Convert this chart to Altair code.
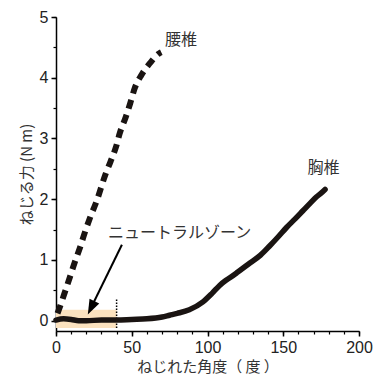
import altair as alt
import pandas as pd

# ---- data ----
lumbar_x = [1, 2.6, 6, 9.2, 12.5, 15.8, 19, 22.4, 27, 32.5, 36, 39.6, 42, 46, 49, 52, 56.5, 62, 68, 69.5]
lumbar_y = [0.12, 0.23, 0.48, 0.72, 0.97, 1.2, 1.45, 1.69, 1.98, 2.4, 2.62, 2.86, 3.08, 3.35, 3.58, 3.83, 4.05, 4.24, 4.4, 4.42]

thor_x = [0, 5, 10, 15, 20, 30, 40, 50, 60, 70, 75, 80, 88, 97, 103, 108, 112, 115, 120, 128, 135, 141, 147, 152, 158, 163, 168, 172, 175, 177.6]
thor_y = [0.01, 0.03, 0.02, 0.0, 0.0, 0.01, 0.01, 0.02, 0.03, 0.06, 0.09, 0.12, 0.18, 0.31, 0.45, 0.58, 0.66, 0.71, 0.8, 0.95, 1.08, 1.23, 1.39, 1.53, 1.68, 1.81, 1.94, 2.04, 2.1, 2.16]

zone_x = [0, 40]
zone_y = [-0.12, 0.18]
zone_line_y = [-0.12, 0.36]

arrow_x = [43.5, 23.3]
arrow_y = [1.25, 0.22]
arrow_tip = [21, 0.1]

label_text = ["腰椎", "胸椎", "ニュートラルゾーン"]
label_x = [72, 166, 34.3]
label_y = [4.62, 2.52, 1.45]

x_major = [0, 50, 100, 150, 200]
x_minor = list(range(0, 201, 10))
y_major = [0, 1, 2, 3, 4, 5]
y_minor = [i * 0.5 for i in range(11)]

x_title = "ねじれた角度（ 度 ）"
y_title = "ねじる力 (N m)"

# ---- chart ----
FONT_NUM = "Liberation Sans, Arial, Noto Sans CJK JP"
FONT_JP = "Noto Sans CJK JP, Liberation Sans"
INK = "#1a1412"

xscale = alt.Scale(domain=[0, 200], nice=False, zero=False)
yscale = alt.Scale(domain=[-0.17, 5], nice=False, zero=False)

major_x_axis = alt.Axis(values=x_major, orient="bottom", tickSize=5, tickWidth=1.5, tickColor="black",
                        domainColor="black", domainWidth=1.5, labelFont=FONT_NUM, labelFontSize=16,
                        labelColor="#222", labelPadding=3, labelFlush=False, grid=False, title=x_title,
                        titleFont=FONT_JP, titleFontSize=15, titleFontWeight="normal", titleColor="#333",
                        titlePadding=4)
major_y_axis = alt.Axis(values=y_major, orient="left", tickSize=5, tickWidth=1.5, tickColor="black",
                        domainColor="black", domainWidth=1.5, labelFont=FONT_NUM, labelFontSize=16,
                        labelColor="#222", labelPadding=3, labelFlush=False, grid=False, title=y_title,
                        titleFont=FONT_JP, titleFontSize=15, titleFontWeight="normal", titleColor="#333",
                        titlePadding=5)
minor_x_axis = alt.Axis(values=x_minor, orient="bottom", tickSize=3, tickWidth=1.2, tickColor="black",
                        domain=False, labels=False, grid=False, title=None)
minor_y_axis = alt.Axis(values=y_minor, orient="left", tickSize=3, tickWidth=1.2, tickColor="black",
                        domain=False, labels=False, grid=False, title=None)

zone_df = pd.DataFrame({"x": [zone_x[0]], "x2": [zone_x[1]], "y": [zone_y[0]], "y2": [zone_y[1]]})
zone = alt.Chart(zone_df).mark_rect(color="#fbe2bf").encode(
    x=alt.X("x:Q", scale=xscale, axis=minor_x_axis),
    x2="x2:Q",
    y=alt.Y("y:Q", scale=yscale, axis=minor_y_axis),
    y2="y2:Q",
)

zline_df = pd.DataFrame({"x": [zone_x[1]], "y": [zone_line_y[0]], "y2": [zone_line_y[1]]})
zline = alt.Chart(zline_df).mark_rule(color="black", strokeWidth=1.5, strokeDash=[1.5, 1.5]).encode(
    x=alt.X("x:Q", scale=xscale, axis=None),
    y=alt.Y("y:Q", scale=yscale, axis=None),
    y2="y2:Q",
)

thor_df = pd.DataFrame({"x": thor_x, "y": thor_y})
thor = alt.Chart(thor_df).mark_line(color=INK, strokeWidth=5.5, strokeCap="round", strokeJoin="round",
                                    interpolate="monotone").encode(
    x=alt.X("x:Q", scale=xscale, axis=major_x_axis),
    y=alt.Y("y:Q", scale=yscale, axis=major_y_axis),
)

lum_df = pd.DataFrame({"x": lumbar_x, "y": lumbar_y})
lum = alt.Chart(lum_df).mark_line(color=INK, strokeWidth=6, strokeDash=[9, 6.5], strokeCap="butt",
                                  interpolate="monotone").encode(
    x=alt.X("x:Q", scale=xscale, axis=None),
    y=alt.Y("y:Q", scale=yscale, axis=None),
)

arr_df = pd.DataFrame({"x": arrow_x, "y": arrow_y})
arr = alt.Chart(arr_df).mark_line(color="black", strokeWidth=2).encode(
    x=alt.X("x:Q", scale=xscale, axis=None),
    y=alt.Y("y:Q", scale=yscale, axis=None),
)

tip_df = pd.DataFrame({"x": [arrow_tip[0]], "y": [arrow_tip[1]]})
tip = alt.Chart(tip_df).mark_point(shape="M0,0 L0.36,1 L-0.36,1 Z", filled=True, size=900, angle=206,
                                    color="black", opacity=1, strokeWidth=0).encode(
    x=alt.X("x:Q", scale=xscale, axis=None),
    y=alt.Y("y:Q", scale=yscale, axis=None),
)

lab_df = pd.DataFrame({"x": label_x, "y": label_y, "t": label_text})
labels = alt.Chart(lab_df).mark_text(align="left", baseline="middle", font=FONT_JP, fontSize=16,
                                      color="#333").encode(
    x=alt.X("x:Q", scale=xscale, axis=None),
    y=alt.Y("y:Q", scale=yscale, axis=None),
    text="t:N",
)

chart = alt.layer(zone, zline, thor, lum, arr, tip, labels).resolve_axis(
    x="independent", y="independent"
).properties(
    width=303, height=314,
    autosize=alt.AutoSizeParams(type="none"),
    padding={"left": 48, "top": 9, "right": 20, "bottom": 50},
    background="white",
).configure_view(stroke=None)

chart.save("out.html", embed_options={"renderer": "svg", "actions": False})
